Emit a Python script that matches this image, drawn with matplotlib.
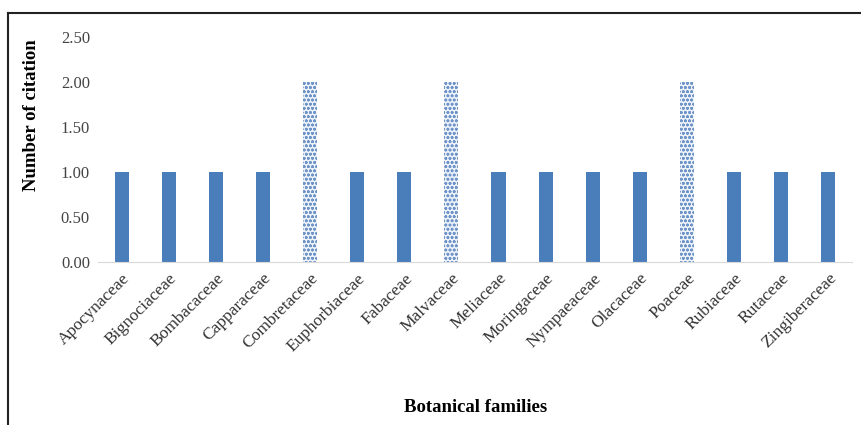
import numpy as np
import matplotlib
matplotlib.use('Agg')
import matplotlib.pyplot as plt
from matplotlib.lines import Line2D

# citations per botanical family
families = ['Apocynaceae', 'Bignociaceae', 'Bombacaceae', 'Capparaceae', 'Combretaceae',
            'Euphorbiaceae', 'Fabaceae', 'Malvaceae', 'Meliaceae', 'Moringaceae',
            'Nympaeaceae', 'Olacaceae', 'Poaceae', 'Rubiaceae', 'Rutaceae', 'Zingiberaceae']
citations = [1, 1, 1, 1, 2, 1, 1, 2, 1, 1, 1, 1, 2, 1, 1, 1]
yticks = [0.0, 0.5, 1.0, 1.5, 2.0, 2.5]

plt.rcParams['font.family'] = ['Liberation Serif', 'DejaVu Serif']
plt.rcParams['hatch.linewidth'] = 0.8

fig = plt.figure(figsize=(8.62, 4.25), dpi=100)
ax = fig.add_axes([0.114, 0.3835, 0.874, 0.5295])

x = np.arange(len(families))
blue = '#4A7EBB'
for xi, v in zip(x, citations):
   if v >= 2:
      ax.bar(xi, v, width=0.3, facecolor='#eef3fa', edgecolor='#6f95c8', hatch='oooo', lw=0)
   else:
      ax.bar(xi, v, width=0.3, color=blue)

ax.set_xlim(-0.5, len(families) - 0.5)
ax.set_ylim(0, 2.5)
ax.set_yticks(yticks)
ax.set_yticklabels(['%.2f' % t for t in yticks], fontsize=12, color='#444444')
ax.set_xticks(x)
ax.set_xticklabels(families, rotation=45, ha='right', rotation_mode='anchor', fontsize=12.5, color='#333333')
ax.tick_params(axis='both', length=0, pad=6)

for side in ['top', 'right', 'left']:
   ax.spines[side].set_visible(False)
ax.spines['bottom'].set_color('#d9d9d9')

fig.text(0.037, 0.73, 'Number of citation', rotation=90, ha='center', va='center',
         fontsize=13.5, fontweight='bold')
fig.text(0.552, 0.04, 'Botanical families', ha='center', va='center',
         fontsize=13.5, fontweight='bold')

# frame lines around the chart
fig.add_artist(Line2D([0.0093, 0.0093], [0.0, 0.969], color='#222222', lw=1.5))
fig.add_artist(Line2D([0.0093, 1.0], [0.969, 0.969], color='#222222', lw=1.5))

fig.savefig('out.png', dpi=100)
